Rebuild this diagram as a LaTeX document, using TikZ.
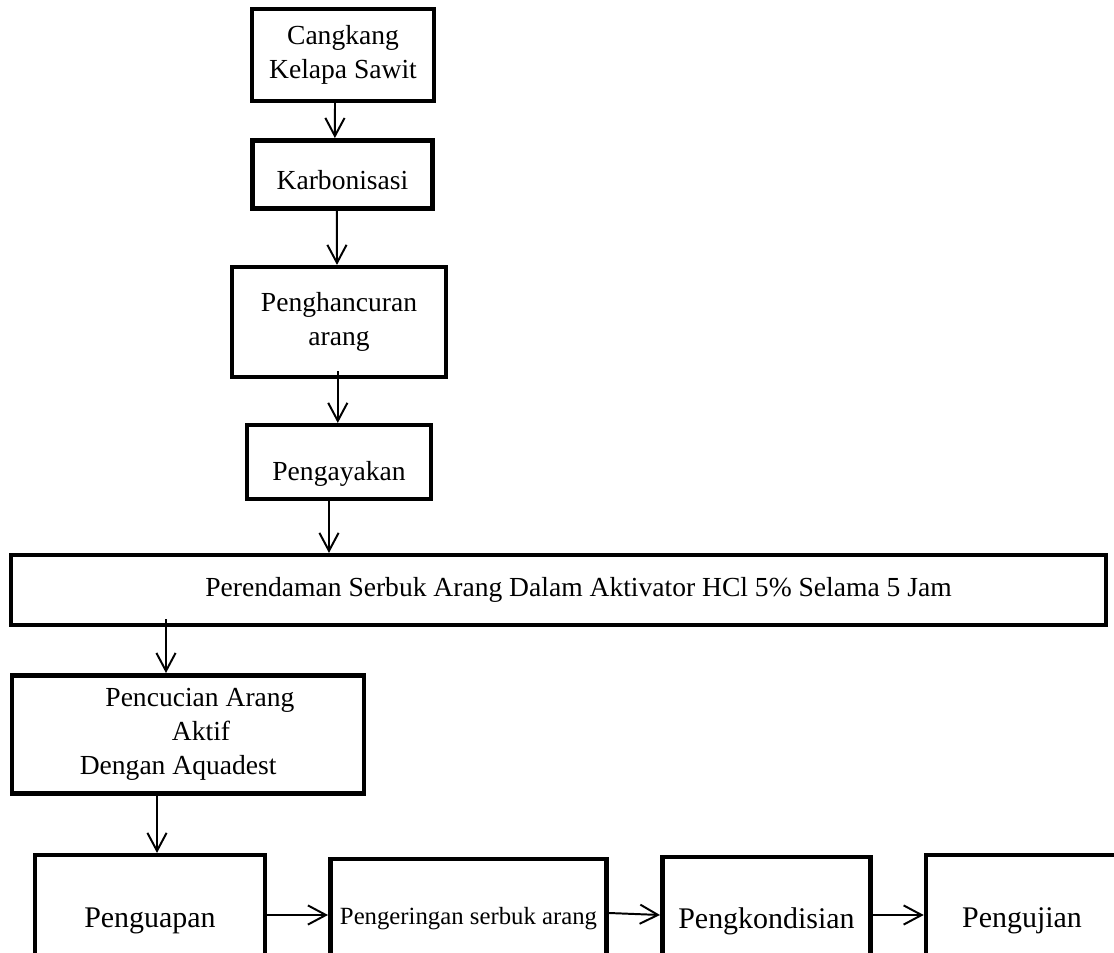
\documentclass[tikz,border=0pt]{standalone}
\usepackage{fontspec}
\setmainfont{Liberation Serif}
\usetikzlibrary{arrows.meta,positioning}
\tikzset{%
	process/.style = {draw, rectangle, line width=3.2pt, inner sep=0pt, text centered, font=\fontsize{19.6}{24.2}\selectfont},
	bigtext/.style = {font=\fontsize{21.3}{26}\selectfont, text height=15.6pt, text depth=0pt},
	lowtext/.style = {text height=#1, text depth=0pt},
	arrow/.style   = {line width=1.4pt, -{Straight Barb[length=0.45cm,width=0.48cm]}},
}

\begin{document}
\begin{tikzpicture}[x=0.025cm,y=-0.025cm]
	\clip (0,0) rectangle (1114,953);
	
	% vertical chain
	\node[process, minimum width=4.54cm, minimum height=2.29cm, align=center] (cangkang) at (343,55) {Cangkang\\Kelapa Sawit};
	\node[process, lowtext=22pt, minimum width=4.51cm, minimum height=1.71cm] (karbonisasi) at (342.5,174.5) {Karbonisasi};
	\node[process, minimum width=5.34cm, minimum height=2.74cm, align=center] (penghancuran) at (339,322) {Penghancuran\\arang};
	\node[process, lowtext=25.6pt, minimum width=4.59cm, minimum height=1.84cm] (pengayakan) at (339,462) {Pengayakan};
	\node[process, minimum width=27.36cm, minimum height=1.74cm] (perendaman) at (558.5,590) {\hspace*{28.5pt}Perendaman Serbuk Arang Dalam Aktivator HCl 5\% Selama 5 Jam};
	\node[process, minimum width=8.79cm, minimum height=2.96cm, align=center] (pencucian) at (188,734.5) {\hspace*{17pt}Pencucian Arang\\\hspace*{18.5pt}Aktif\\Dengan Aquadest\hspace*{14pt}};
	
	% bottom row
	\node[process, bigtext, minimum width=5.74cm, minimum height=3.09cm] (penguapan) at (150,917) {Penguapan};
	\node[process, font=\fontsize{17.6}{21}\selectfont, minimum width=6.91cm, minimum height=2.99cm] (pengeringan) at (468.5,919) {Pengeringan serbuk arang};
	\node[process, bigtext, minimum width=5.21cm, minimum height=3.04cm] (pengkondisian) at (766.5,918) {Pengkondisian};
	\node[process, bigtext, minimum width=5.4cm, minimum height=3.09cm] (pengujian) at (1034,917) {Pengujian\hspace*{17pt}};
	
	\coordinate (p4) at ([xshift=-0.25cm]pengayakan.south);
	\coordinate (p5) at ([xshift=-0.55cm]pencucian.north);
	
	\draw[arrow] ([xshift=-0.2cm]cangkang.south) -- ([xshift=-0.19cm]karbonisasi.north);
	\draw[arrow] ([xshift=-0.14cm]karbonisasi.south) -- ([xshift=-0.05cm]penghancuran.north);
	\draw[arrow] ([xshift=-0.03cm,yshift=0.2cm]penghancuran.south) -- ([xshift=-0.03cm]pengayakan.north);
	\draw[arrow] (p4) -- (p4 |- perendaman.north);
	\draw[arrow] ([yshift=0.2cm]p5 |- perendaman.south) -- (p5);
	\draw[arrow] ([xshift=-0.775cm]pencucian.south) -- ([xshift=0.175cm]penguapan.north);
	\draw[arrow] ([yshift=0.05cm]penguapan.east) -- ([yshift=0.1cm]pengeringan.west);
	\draw[arrow] ([yshift=0.15cm]pengeringan.east) -- ([yshift=0.075cm]pengkondisian.west);
	\draw[arrow] ([yshift=0.075cm]pengkondisian.east) -- ([yshift=0.05cm]pengujian.west);
\end{tikzpicture}
\end{document}
